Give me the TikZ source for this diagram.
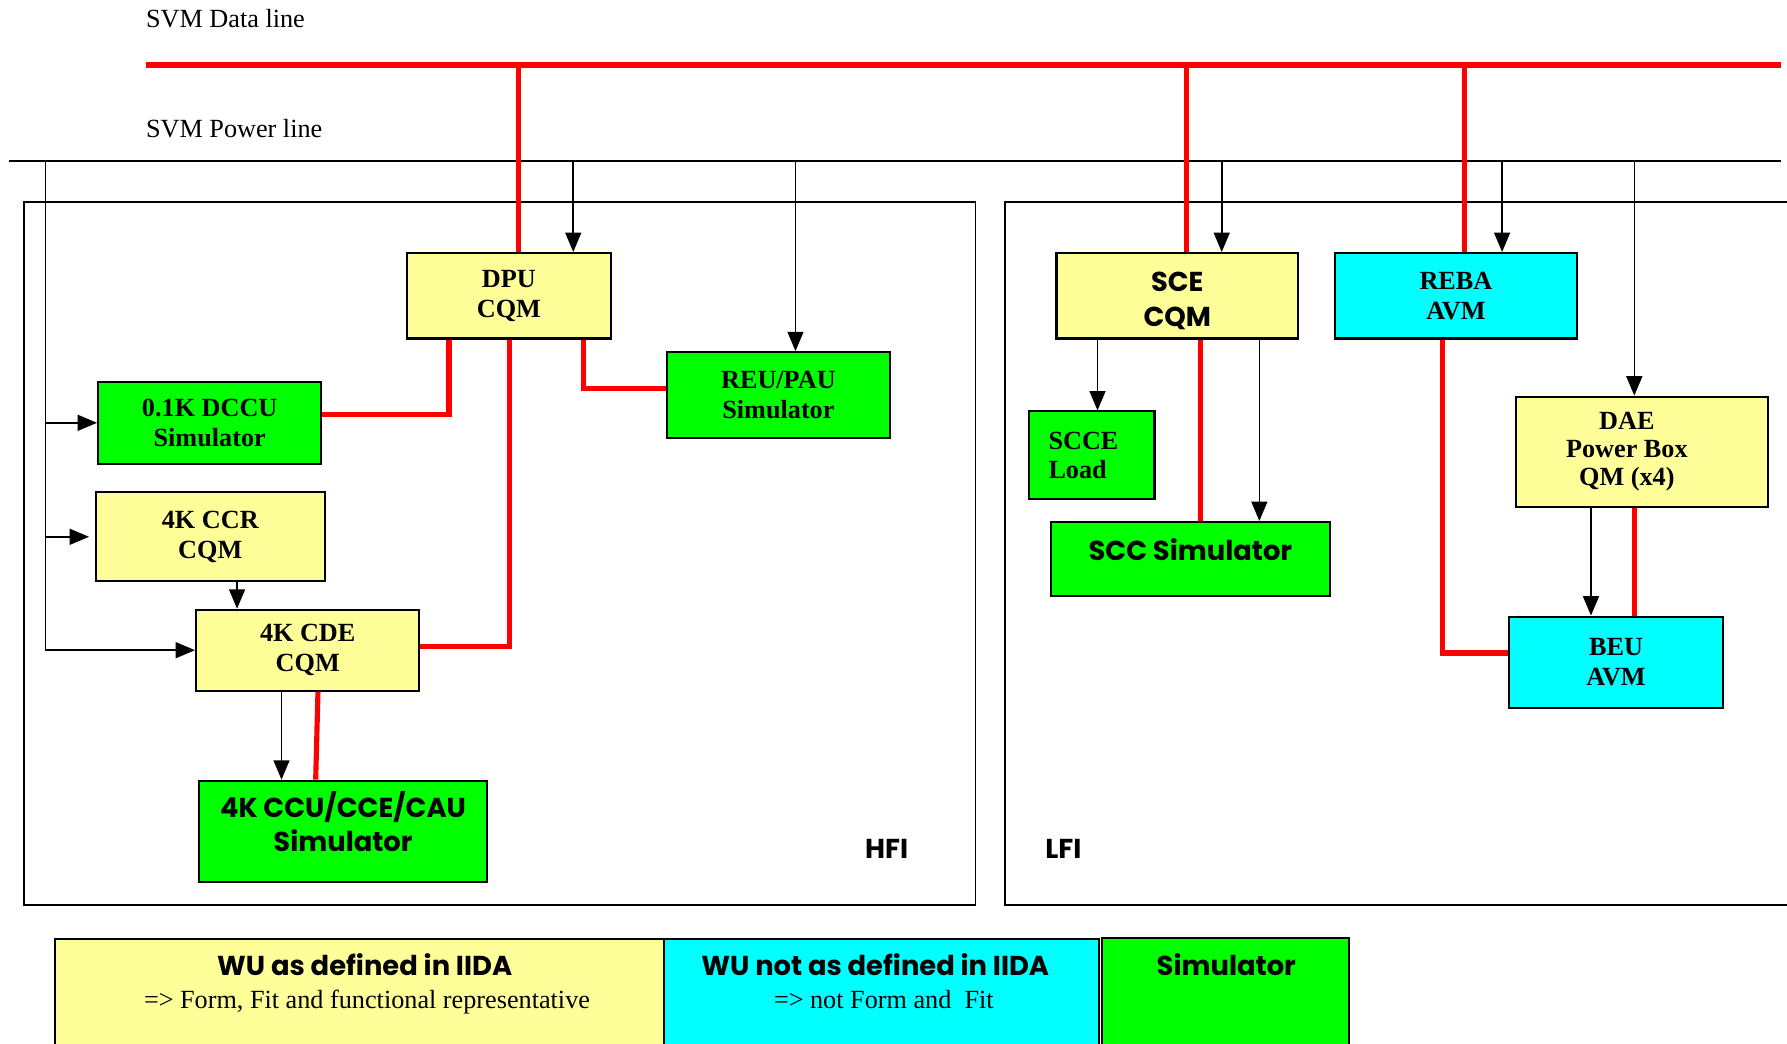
\documentclass[tikz,border=0pt]{standalone}
\usepackage{fontspec}
\setmainfont{Liberation Serif}
\newfontfamily\futura{Poppins}
\usetikzlibrary{arrows.meta, positioning}

\definecolor{wuyellow}{HTML}{FFFF99}
\definecolor{simgreen}{HTML}{00FF00}
\definecolor{avmcyan}{HTML}{00FFFF}

\begin{document}
\begin{tikzpicture}[x=1pt, y=-1pt,
    box/.style={draw=black, line width=1.8pt, inner sep=2pt, align=center,
                font=\fontsize{23}{26}\selectfont\bfseries},
    wubox/.style={box, fill=wuyellow},
    simbox/.style={box, fill=simgreen},
    avmbox/.style={box, fill=avmcyan},
    heavy/.style={font=\fontsize{24}{30}\selectfont\futura\bfseries},
    dataline/.style={draw=red, line width=4.5pt},
    pwr/.style={draw=black, line width=1.4pt, -{Triangle[length=17pt, width=14pt]}},
    frame/.style={draw=black, line width=1.6pt}]

    \clip (0,0) rectangle (1568,916);

    % Bus lines
    \coordinate (dataL) at (128,57);
    \coordinate (dataR) at (1563,57);
    \coordinate (pwrL) at (8,141);
    \coordinate (pwrR) at (1563,141);
    \coordinate (lbus) at (40,141);
    \node[anchor=base west, inner sep=0, font=\fontsize{23}{26}\selectfont] (datatxt) at (128,24) {SVM Data line};
    \node[anchor=base west, inner sep=0, font=\fontsize{23}{26}\selectfont] (pwrtxt) at (128,121) {SVM Power line};
    \draw[dataline] (dataL) -- (dataR);
    \draw[line width=1.6pt] (pwrL) -- (pwrR);

    % Instrument frames
    \draw[frame] (21,177) rectangle (856,794);
    \draw[frame] (882,177) rectangle (1590,794);
    \node[heavy] (hfi) at (778,745) {HFI};
    \node[heavy] (lfi) at (933,745) {LFI};

    % HFI units
    \node[wubox, minimum width=179, minimum height=75] (dpu) at (446.5,259.5) {DPU\\CQM};
    \node[simbox, minimum width=196, minimum height=72] (dccu) at (184,371) {0.1K DCCU\\Simulator};
    \node[simbox, minimum width=196, minimum height=75] (reu) at (683,346.5) {REU/PAU\\Simulator};
    \node[wubox, minimum width=201, minimum height=78] (ccr) at (184.5,471) {4K CCR\\CQM};
    \node[wubox, minimum width=196, minimum height=71] (cde) at (270,570.5) {4K CDE\\CQM};
    \node[simbox, heavy, minimum width=252, minimum height=89, text depth=18pt] (ccu) at (301,729.5) {4K CCU/CCE/CAU\\Simulator};

    % LFI units
    \node[wubox, heavy, minimum width=212, minimum height=75, text height=56pt] (sce) at (1033,259.5) {SCE\\CQM};
    \node[avmbox, minimum width=213, minimum height=75] (reba) at (1277.5,259.5) {REBA\\AVM};
    \node[simbox, minimum width=110, minimum height=77, align=left, text width=76] (scce) at (958,399.5) {SCCE\\Load};
    \node[simbox, heavy, minimum width=245, minimum height=65, text height=19pt, text depth=17pt] (scc) at (1044.5,490.5) {SCC Simulator};
    \node[wubox, minimum width=221, minimum height=97, font=\fontsize{23}{24.5}\selectfont\bfseries] (dae) at (1440.5,396.5)
        {\begin{tabular}{@{}c@{}}DAE\\Power Box\\QM (x4)\end{tabular}\hspace*{26pt}};
    \node[avmbox, minimum width=188, minimum height=80] (beu) at (1418,581) {BEU\\AVM};

    % Data connections
    \draw[dataline] ([xshift=8.5pt]dpu.north |- dataL) -- ([xshift=8.5pt]dpu.north);
    \draw[dataline] ([xshift=8pt]sce.north |- dataL) -- ([xshift=8pt]sce.north);
    \draw[dataline] ([xshift=7.5pt]reba.north |- dataL) -- ([xshift=7.5pt]reba.north);
    \draw[dataline] ([xshift=-52.5pt]dpu.south) |- ([yshift=7pt]dccu.east);
    \draw[dataline] ([xshift=0.5pt]dpu.south) |- ([yshift=3.5pt]cde.east);
    \draw[dataline] ([xshift=65.5pt]dpu.south) |- ([yshift=5.5pt]reu.west);
    \draw[dataline] ([xshift=9pt]cde.south) -- ([xshift=-24pt]ccu.north);
    \draw[dataline] ([xshift=20pt]sce.south) -- ([xshift=20pt]sce.south |- scc.north);
    \draw[dataline] ([xshift=-11.5pt]reba.south) |- ([yshift=8pt]beu.west);
    \draw[dataline] ([xshift=-6.5pt]dae.south) -- ([xshift=-6.5pt]dae.south |- beu.north);

    % Power connections
    \draw[pwr] ([xshift=56.5pt]dpu.north |- pwrL) -- ([xshift=56.5pt]dpu.north);
    \draw[pwr] ([xshift=15pt]reu.north |- pwrL) -- ([xshift=15pt]reu.north);
    \draw[pwr] ([xshift=39pt]sce.north |- pwrL) -- ([xshift=39pt]sce.north);
    \draw[pwr] ([xshift=40.5pt]reba.north |- pwrL) -- ([xshift=40.5pt]reba.north);
    \draw[pwr] ([xshift=-6.5pt]dae.north |- pwrL) -- ([xshift=-6.5pt]dae.north);
    \draw[pwr] (lbus) |- (cde.west);
    \draw[pwr] (lbus |- dccu.west) -- (dccu.west);
    \draw[pwr] (lbus |- ccr.west) -- ([xshift=-5pt]ccr.west);
    \draw[pwr] ([xshift=23.5pt]ccr.south) -- ([xshift=23.5pt]ccr.south |- cde.north);
    \draw[pwr] ([xshift=-23pt]cde.south) -- ([xshift=-54pt]ccu.north);
    \draw[pwr] ([xshift=-70pt]sce.south) -- ([xshift=-70pt]sce.south |- scce.north);
    \draw[pwr] ([xshift=72pt]sce.south) -- ([xshift=72pt]sce.south |- scc.north);
    \draw[pwr] ([xshift=-44.5pt]dae.south) -- ([xshift=-44.5pt]dae.south |- beu.north);

    % Legend
    \node[wubox, anchor=north west, minimum width=535, minimum height=110] (legwu) at (47,823) {};
    \node[avmbox, anchor=north west, minimum width=381, minimum height=110] (legavm) at (582,823) {};
    \node[simbox, anchor=north west, minimum width=217, minimum height=110] (legsim) at (966,822) {};
    \node[heavy] (legwut) at (320,846) {WU as defined in IIDA};
    \node[font=\fontsize{23}{26}\selectfont] (legwus) at (322,879) {=> Form, Fit and functional representative};
    \node[heavy] (legavmt) at (768,846) {WU not as defined in IIDA};
    \node[font=\fontsize{23}{26}\selectfont] (legavms) at (775.5,877) {=> not Form and~ Fit};
    \node[heavy] (legsimt) at (1076,846) {Simulator};
\end{tikzpicture}
\end{document}
